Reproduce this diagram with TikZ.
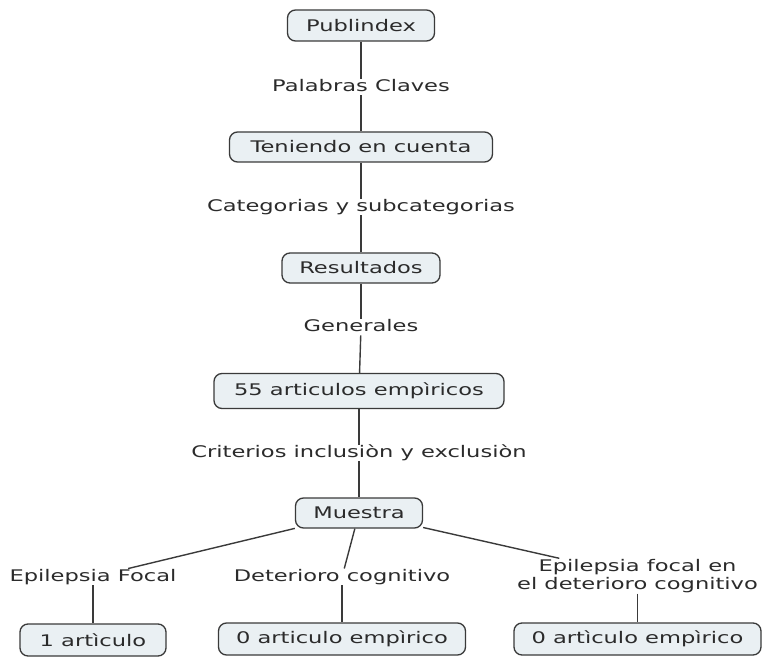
\documentclass[tikz,border=0pt]{standalone}
\usepackage{fontspec}
\setmainfont{DejaVu Sans}[FakeStretch=1.41]
\usepackage{tikz}
\usepackage{xcolor}
\definecolor{boxfill}{HTML}{EAF0F3}
\definecolor{boxline}{HTML}{3A3A3A}
\definecolor{inkgray}{HTML}{2B2B2B}
\newcommand{\letra}{\fontsize{16}{17.5}\selectfont}

\begin{document}
\begin{tikzpicture}[x=1pt,y=-1pt,
  concepto/.style={draw=boxline,line width=1.3pt,fill=boxfill,rounded corners=8pt,minimum height=30pt,inner sep=0pt,text=inkgray,font=\letra},
  enlace/.style={inner sep=1pt,text=inkgray,font=\letra},
  unalinea/.style={enlace,text height=11.5pt,text depth=3pt},
  linea/.style={draw=boxline,line width=1.4pt}]
\useasboundingbox (0,0) rectangle (764,658);
\node[concepto,minimum width=147pt,minimum height=31pt] (publindex) at (361,25.5) {Publindex};
\node[unalinea] (palabras) at (361,87) {Palabras Claves};
\node[concepto,minimum width=263pt] (teniendo) at (361,147) {Teniendo en cuenta};
\node[unalinea] (categorias) at (361,207) {Categorias y subcategorias};
\node[concepto,minimum width=158pt] (resultados) at (361,268) {Resultados};
\node[unalinea] (generales) at (361,327) {Generales};
\node[concepto,minimum width=290pt,minimum height=35pt] (articulos) at (359,391) {55 articulos empìricos};
\node[unalinea] (criterios) at (359,453) {Criterios inclusiòn y exclusiòn};
\node[concepto,minimum width=127pt] (muestra) at (359,513) {Muestra};
\node[unalinea] (epfocal) at (93,577) {Epilepsia Focal};
\node[unalinea] (deterioro) at (342,577) {Deterioro cognitivo};
\node[enlace,align=center] (epdeterioro) at (637.5,576) {Epilepsia focal en\\el deterioro cognitivo};
\node[concepto,minimum width=146pt,minimum height=32pt] (uno) at (93,640) {1 artìculo};
\node[concepto,minimum width=247pt,minimum height=32pt] (cerouno) at (342,639) {0 articulo empìrico};
\node[concepto,minimum width=247pt,minimum height=32pt] (cerodos) at (637.5,639) {0 artìculo empìrico};
\draw[linea] (publindex) -- (palabras);
\draw[linea] (palabras) -- (teniendo);
\draw[linea] (teniendo) -- (categorias);
\draw[linea] (categorias) -- (resultados);
\draw[linea] (resultados) -- (generales);
\draw[linea] (generales) -- (articulos);
\draw[linea] (articulos) -- (criterios);
\draw[linea] (criterios) -- (muestra);
\draw[linea] (muestra) -- (epfocal);
\draw[linea] (muestra) -- (deterioro);
\draw[linea] (muestra) -- (epdeterioro);
\draw[linea] (epfocal) -- (uno);
\draw[linea] (deterioro) -- (cerouno);
\draw[linea] (epdeterioro) -- (cerodos);
\end{tikzpicture}
\end{document}
